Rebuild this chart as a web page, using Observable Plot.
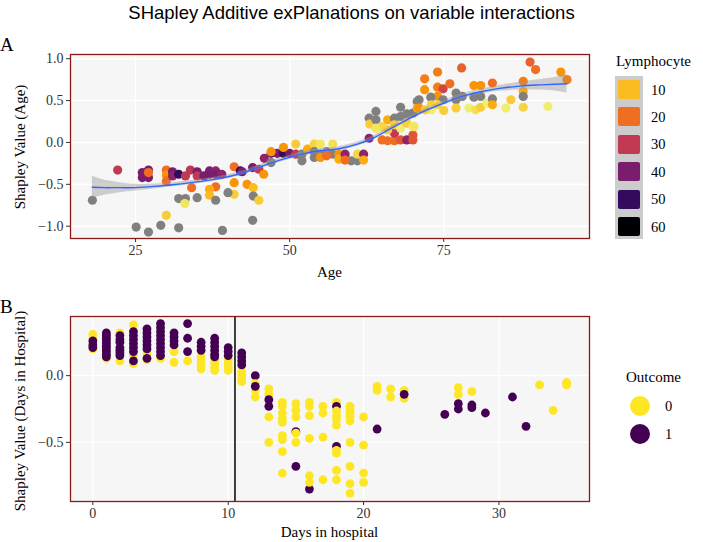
<!DOCTYPE html>
<html><head><meta charset="utf-8">
<script src="https://cdn.jsdelivr.net/npm/d3@7"></script>
<script src="https://cdn.jsdelivr.net/npm/@observablehq/plot@0.6"></script>
<style>
body{margin:0;background:#fff;width:703px;height:542px;position:relative;overflow:hidden;font-family:"Liberation Serif","Times New Roman",serif;color:#000;}
#title{position:absolute;top:2px;left:0;width:703px;text-align:center;font-family:"Liberation Sans",Arial,sans-serif;font-size:18.5px;line-height:22px;}
.tag{position:absolute;left:0;font-size:19px;line-height:19px;}
.panel{position:absolute;left:0;}
.xt{position:absolute;left:70px;width:519px;text-align:center;font-size:15px;line-height:16px;}
.yt{position:absolute;transform:translate(-50%,-50%) rotate(-90deg);white-space:nowrap;font-size:15px;line-height:16px;}
.lt{position:absolute;font-size:15px;line-height:16px;white-space:nowrap;}
.ll{position:absolute;font-size:14.5px;line-height:16px;}
</style></head>
<body>
<div id="title">SHapley Additive exPlanations on variable interactions</div>
<div class="tag" style="top:35px">A</div>
<div class="tag" style="top:297px">B</div>
<div id="pa" class="panel" style="top:30px"></div>
<div id="pb" class="panel" style="top:290px"></div>
<div class="xt" style="top:264px">Age</div>
<div class="yt" style="left:20px;top:147px">Shapley Value (Age)</div>
<div class="xt" style="top:524px">Days in hospital</div>
<div class="yt" style="left:20px;top:411px">Shapley Value (Days in Hospital)</div>
<div id="legA"></div>
<div id="legB"></div>
<script>
// ---------- Panel A data ----------
const ageA = [18,22.1,26.1,26.1,27.1,27.1,27.1,30,30,30,31,31,32,33.1,33.9,35,35,37,37,38,38,39,41,41,38,34.1,37,37,41,32,33.1,33,35,38,40,30,25.1,27.1,29.1,32,39.1,44,36.1,42,
42.3,43.1,44.1,44.1,45,44,45,45.8,45.9,47,48,49,50,51,47,47,49,51,52,52,52.9,54,55,57,54,54,55,56,57,55,56,58,58,59,60,61,61,62,62,59,62.9,62.9,64,63,64,65,65.9,65,65.9,67,68,69,70,70,67,68,69,70,68,67,67,68,69,70,70.7,70.7,65.9,64,
70.2,71,71,71.9,71.9,74,74,74,74.9,76,77.9,74.9,72.9,73,73,72,74,75,77,77,78,77,79.1,79.9,79.9,81,81,80.2,81,82,82.9,82.9,82.9,85.1,85.9,87.9,87.9,87.9,87.9,89,89.9,91.9,94,95];
const shapA = [-0.69,-0.33,-0.36,-0.42,-0.33,-0.42,-0.36,-0.33,-0.39,-0.46,-0.35,-0.40,-0.38,-0.40,-0.33,-0.35,-0.40,-0.34,-0.38,-0.34,-0.38,-0.38,-0.29,-0.48,-0.53,-0.54,-0.56,-0.63,-0.62,-0.67,-0.67,-0.73,-0.66,-0.69,-0.60,-0.87,-1.01,-1.07,-0.99,-1.02,-1.05,-0.93,-0.40,-0.34,
-0.35,-0.50,-0.54,-0.64,-0.69,-0.30,-0.32,-0.38,-0.19,-0.13,-0.13,-0.13,-0.13,-0.14,-0.24,-0.11,-0.06,-0.02,-0.22,-0.14,-0.08,-0.02,-0.02,-0.02,-0.11,-0.18,-0.14,-0.11,-0.14,-0.18,-0.16,-0.14,-0.20,-0.14,-0.22,-0.22,-0.14,-0.14,-0.21,-0.21,0.05,0.29,0.37,0.22,0.27,0.19,0.27,0.03,0.02,0.02,0.03,0.03,0.03,0.09,0.11,0.42,0.34,0.35,0.31,0.29,0.21,0.17,0.23,0.19,0.49,0.41,0.15,0.17,
0.19,0.51,0.41,0.76,0.63,0.84,0.66,0.55,0.64,0.70,0.89,0.51,0.54,0.45,0.39,0.39,0.45,0.38,0.59,0.51,0.55,0.41,0.41,0.54,0.68,0.68,0.55,0.39,0.42,0.47,0.71,0.52,0.45,0.41,0.51,0.73,0.61,0.55,0.42,0.96,0.87,0.43,0.84,0.75];
const lymphA = [null,30,40,40,40,40,20,20,15,20,40,37,50,30,30,40,30,40,40,37,40,37,20,15,20,20,12,10,8,null,null,5,null,null,null,8,null,null,null,null,null,null,40,50,
40,15,10,null,8,40,30,15,37,40,40,50,40,30,null,15,15,8,null,null,12,7,5,6,null,null,null,null,null,15,20,15,12,37,null,null,7,37,12,20,37,null,null,8,null,7,12,20,20,20,24,37,24,24,30,null,null,null,null,null,8,4,8,4,null,12,8,5,
5,null,15,18,15,18,18,15,27,20,22,null,null,8,4,8,7,8,null,null,null,8,4,null,15,15,null,6,8,4,20,null,12,4,8,18,12,null,7,22,20,4,15,18];

// loess smooth
const smoothAge = [18,20,22.5,25,28,31,34,37,40,43,46,49,52,55,58,61,63.5,66,69,72,75,78,81,84,87,90,93,95];
const smoothFit = [-0.535,-0.54,-0.54,-0.54,-0.525,-0.505,-0.48,-0.45,-0.41,-0.35,-0.27,-0.20,-0.14,-0.10,-0.075,-0.02,0.05,0.15,0.27,0.38,0.47,0.55,0.605,0.645,0.67,0.685,0.695,0.70];
const smoothLo  = [-0.665,-0.63,-0.60,-0.58,-0.555,-0.53,-0.505,-0.475,-0.435,-0.375,-0.295,-0.225,-0.165,-0.125,-0.10,-0.045,0.025,0.125,0.245,0.355,0.445,0.52,0.575,0.61,0.625,0.625,0.615,0.59];
const smoothHi  = [-0.405,-0.45,-0.48,-0.50,-0.495,-0.48,-0.455,-0.425,-0.385,-0.325,-0.245,-0.175,-0.115,-0.075,-0.05,0.005,0.075,0.175,0.295,0.405,0.495,0.58,0.635,0.68,0.715,0.745,0.775,0.81];

const xTicksA = [25,50,75];
const yTicksA = [-1,-0.5,0,0.5,1];
const lymphLegend = [10,20,30,40,50,60];

// ---------- Panel B data ----------
const dayB = [
0,0,0,0,0,0,
1,1,1,1,1,1,1,1,1,1,1,1,
2,2,2,2,2,2,2,2,2,
3,3,3,3,3,3,3,3,3,3,
4,4,4,4,4,4,4,4,4,
5,5,5,5,5,5,5,5,5,5,
6,6,6,6,6,6,
7,7,7,7,
8,8,8,8,8,8,8,
9,9,9,9,9,9,9,9,9,9,
10,10,10,10,10,10,10,
11,11,11,11,11,11,11,11,
12,12,12,12,12,
13,13,13,13,13,13,
14,14,14,14,14,14,14,14,14,
15,15,15,15,15,15,15,
16,16,16,16,16,16,16,
17,17,17,17,
18,18,18,18,18,18,18,18,18,18,18,
19,19,19,19,19,19,19,19,19,
20,20,20,20,
21,21,21,
22,22,
23,23,23,
26,27,27,27,27,28,28,28,29,31,32,33,34,35,35];
const shapB = [
0.31,0.28,0.20,0.26,0.23,0.21,
0.13,0.15,0.32,0.30,0.28,0.26,0.24,0.22,0.20,0.18,0.16,0.14,
0.32,0.11,0.30,0.27,0.25,0.21,0.19,0.17,0.15,
0.38,0.15,0.09,0.33,0.30,0.27,0.24,0.21,0.18,0.11,
0.17,0.12,0.35,0.32,0.29,0.26,0.23,0.20,0.13,
0.13,0.39,0.36,0.33,0.30,0.27,0.24,0.21,0.18,0.15,
0.18,0.10,0.32,0.29,0.26,0.23,
0.11,0.39,0.28,0.18,
0.14,0.11,0.08,0.05,0.25,0.22,0.19,
0.12,0.09,0.06,0.04,0.28,0.25,0.22,0.19,0.16,0.14,
0.12,0.09,0.06,0.04,0.21,0.18,0.15,
0.03,0.00,-0.03,-0.045,0.17,0.14,0.11,0.08,
0.00,-0.06,-0.11,-0.16,-0.08,
-0.10,-0.14,-0.31,-0.50,-0.18,-0.23,
-0.20,-0.23,-0.28,-0.32,-0.35,-0.45,-0.48,-0.57,-0.73,
-0.42,-0.21,-0.26,-0.31,-0.43,-0.50,-0.68,
-0.85,-0.20,-0.23,-0.30,-0.47,-0.75,-0.80,
-0.23,-0.28,-0.46,-0.78,
-0.20,-0.23,-0.265,-0.30,-0.33,-0.37,-0.53,-0.56,-0.58,-0.71,-0.78,
-0.23,-0.26,-0.28,-0.31,-0.34,-0.50,-0.68,-0.81,-0.88,
-0.31,-0.52,-0.73,-0.80,
-0.08,-0.11,-0.40,
-0.10,-0.16,
-0.11,-0.17,-0.14,
-0.29,-0.09,-0.14,-0.21,-0.25,-0.12,-0.22,-0.24,-0.28,-0.16,-0.38,-0.07,-0.26,-0.05,-0.07];
const outcomeB = [
0,0,0,1,1,1,
0,0,1,1,1,1,1,1,1,1,1,1,
0,0,1,1,1,1,1,1,1,
0,0,0,1,1,1,1,1,1,1,
0,0,1,1,1,1,1,1,1,
0,1,1,1,1,1,1,1,1,1,
0,0,1,1,1,1,
0,1,1,1,
0,0,0,0,1,1,1,
0,0,0,0,1,1,1,1,1,1,
0,0,0,0,1,1,1,
0,0,0,0,1,1,1,1,
1,0,0,0,1,
0,0,0,0,1,1,
0,0,0,0,0,0,0,0,0,
1,0,0,0,0,0,1,
1,0,0,0,0,0,0,
0,0,0,0,
0,1,0,0,0,0,1,0,0,0,0,
0,0,0,0,0,0,0,0,0,
0,0,0,0,
0,0,1,
0,0,
0,0,1,
1,0,0,1,1,0,1,1,1,1,1,0,0,0,0];
const xTicksB = [0,10,20,30];
const yTicksB = [-0.5,0];
const cutoffDay = [10.5];
const outcomeLevels = [0,1];
const outcomeColors = ["#FDE725","#440154"];

if (dayB.length !== shapB.length || dayB.length !== outcomeB.length) console.error("B length mismatch", dayB.length, shapB.length, outcomeB.length);
if (ageA.length !== shapA.length || ageA.length !== lymphA.length) console.error("A length mismatch");

const dataA = ageA.map((a,i)=>({age:a, shap:shapA[i], lymph:lymphA[i]}));
const smooth = smoothAge.map((a,i)=>({age:a, fit:smoothFit[i], lo:smoothLo[i], hi:smoothHi[i]}));
const dataB = dayB.map((d,i)=>({day:d, shap:shapB[i], outcome:outcomeB[i]}));

const baseStyle = {fontFamily:"'Liberation Serif','Times New Roman',serif", fontSize:"14px", color:"#333", background:"none", overflow:"visible"};

const chartA = Plot.plot({
  width:600, height:260, marginTop:24, marginBottom:52, marginLeft:70, marginRight:11,
  style: baseStyle,
  x:{domain:[14.45,98.65], ticks:xTicksA, tickSize:4, tickPadding:3, label:null},
  y:{domain:[-1.147,1.05], ticks:yTicksA, tickFormat:d3.format(".1f"), tickSize:4, tickPadding:3, label:null},
  color:{type:"linear", scheme:"inferno", reverse:true, domain:[1,60], unknown:"#808080"},
  marks:[
    Plot.frame({fill:"#F6F6F6", stroke:"none"}),
    Plot.ruleX(xTicksA, {stroke:"white", strokeWidth:1.4}),
    Plot.ruleY(yTicksA, {stroke:"white", strokeWidth:1.4}),
    Plot.dot(dataA, {x:"age", y:"shap", fill:"lymph", r:4.6}),
    Plot.areaY(smooth, {x:"age", y1:"lo", y2:"hi", fill:"#999999", fillOpacity:0.45, curve:"natural"}),
    Plot.line(smooth, {x:"age", y:"fit", stroke:"#3366FF", strokeWidth:1.4, curve:"natural"}),
    Plot.frame({stroke:"#8B1A1A", strokeWidth:1.3})
  ]
});
document.getElementById("pa").append(chartA);

const chartB = Plot.plot({
  width:600, height:252, marginTop:26, marginBottom:41, marginLeft:70, marginRight:11,
  style: baseStyle,
  x:{domain:[-1.65,36.69], ticks:xTicksB, tickSize:4, tickPadding:3, label:null},
  y:{domain:[-0.943,0.443], ticks:yTicksB, tickFormat:d3.format(".1f"), tickSize:4, tickPadding:3, label:null},
  color:{type:"ordinal", domain:outcomeLevels, range:outcomeColors},
  marks:[
    Plot.frame({fill:"#F6F6F6", stroke:"none"}),
    Plot.ruleX(xTicksB, {stroke:"white", strokeWidth:1.4}),
    Plot.ruleY(yTicksB, {stroke:"white", strokeWidth:1.4}),
    Plot.dot(dataB, {x:"day", y:"shap", fill:"outcome", r:4.4}),
    Plot.ruleX(cutoffDay, {stroke:"#111", strokeWidth:1.6}),
    Plot.frame({stroke:"#8B1A1A", strokeWidth:1.3})
  ]
});
document.getElementById("pb").append(chartB);

// ---------- Legends (HTML, colours from the plots' scales) ----------
const colA = chartA.scale("color");
const legA = document.getElementById("legA");
let h = `<div class="lt" style="left:616px;top:53px">Lymphocyte</div>`;
h += `<div style="position:absolute;left:615px;top:76px;width:28px;height:163px;background:#CCCCCC"></div>`;
lymphLegend.forEach((v,i)=>{
  const y = 80 + i*27.4;
  h += `<div style="position:absolute;left:618px;top:${y}px;width:22px;height:19px;border-radius:2px;background:${colA.apply(v)}"></div>`;
  h += `<div class="ll" style="left:651px;top:${y+1.5}px">${v}</div>`;
});
legA.innerHTML = h;

const colB = chartB.scale("color");
const legB = document.getElementById("legB");
let g = `<div class="lt" style="left:626px;top:369px">Outcome</div>`;
outcomeLevels.forEach((v,i)=>{
  const cy = 405.7 + i*28.3;
  g += `<div style="position:absolute;left:${640-10}px;top:${cy-10}px;width:20px;height:20px;border-radius:50%;background:${colB.apply(v)}"></div>`;
  g += `<div class="ll" style="left:665px;top:${cy-8}px">${v}</div>`;
});
legB.innerHTML = g;
</script>
</body></html>
